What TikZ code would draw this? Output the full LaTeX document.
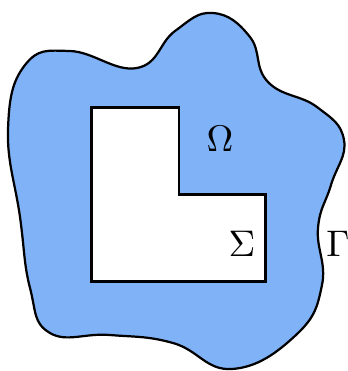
\documentclass[tikz,border=0pt]{standalone}
\usepackage{amsmath, amssymb}
\usepackage{tikz}
\usetikzlibrary{calc}
\usepackage{xcolor}
\definecolor{Sky}{HTML}{80B2F7}

\begin{document}
\begin{tikzpicture}[x=0.27pt, y=-0.27pt, semithick, every node/.style={font=\normalsize}]
  \useasboundingbox (0,0) rectangle (348,371);
  % Domain boundary
  \draw[fill=Sky, smooth cycle, tension=0.75] plot coordinates {
    (213,13) (250,37) (268,82) (317,107) (344,140) (331,185)
    (318,228) (322,285) (296,335) (232,369) (173,343) (110,335)
    (50,333) (30,288) (20,217) (8,130) (25,65) (70,51) (137,68) (175,31)
  };
  % L-shaped hole
  \draw[fill=white] (91.5,107.5) -- (179,107.5) -- (179,194.5) -- (265.5,194.5)
    -- (265.5,281.5) -- (91.5,281.5) -- cycle;
  % Labels
  \node (omega) at (220,139) {$\Omega$};
  \node (sigma) at (242,244) {$\Sigma$};
  \node (gamma) at (338,244) {$\Gamma$};
\end{tikzpicture}
\end{document}
